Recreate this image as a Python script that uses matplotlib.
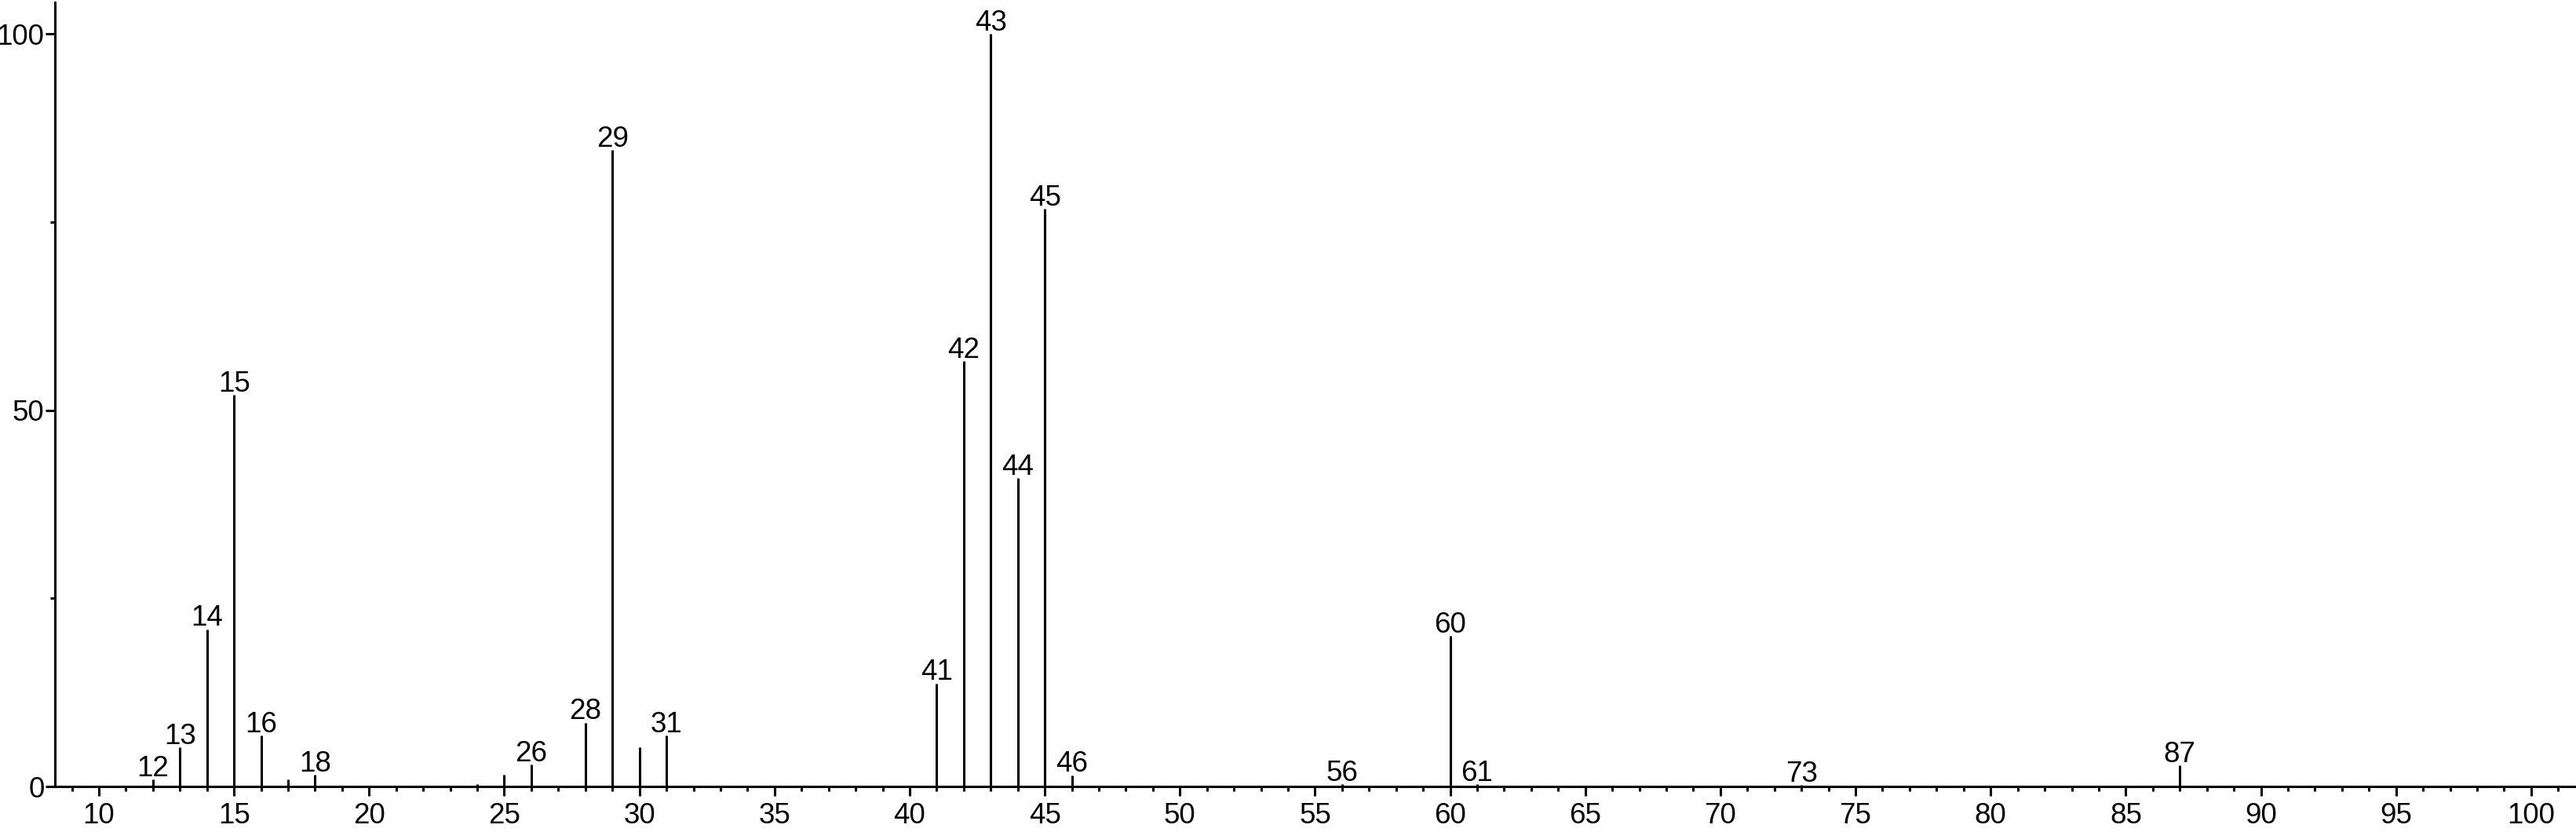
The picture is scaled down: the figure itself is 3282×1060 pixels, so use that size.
import matplotlib
matplotlib.use("Agg")
import matplotlib.pyplot as plt
from matplotlib.ticker import MultipleLocator

plt.rcParams['font.family'] = ['Liberation Sans', 'DejaVu Sans']

# peaks (m/z, relative intensity)
mz = [12, 13, 14, 15, 16, 17, 18, 24, 25, 26, 28, 29, 30, 31,
      41, 42, 43, 44, 45, 46, 56, 60, 61, 73, 87]
intensity = [0.9, 5.2, 20.9, 52.0, 6.8, 0.9, 1.6, 0.35, 1.6, 2.9, 8.5, 84.6, 5.2, 6.8,
             13.7, 56.5, 100.0, 41.0, 76.8, 1.5, 0.3, 20.0, 0.3, 0.2, 2.8]
labeled = [12, 13, 14, 15, 16, 18, 26, 28, 29, 31, 41, 42, 43, 44, 45, 46,
           56, 60, 61, 73, 87]

fig = plt.figure(figsize=(32.82, 10.60), dpi=100)
ax = fig.add_axes([0.0213, 0.0547, 0.9787, 0.9425])

ax.vlines(mz, 0, intensity, colors='black', linewidth=2.2)

for m, h in zip(mz, intensity):
    if m in labeled:
        ax.annotate(str(m), (m, h), xytext=(0, 3), textcoords='offset points',
                    ha='center', va='baseline', fontsize=26.5)

ax.set_xlim(8.37, 101.66)
ax.set_ylim(0, 104.2)

ax.spines['top'].set_visible(False)
ax.spines['right'].set_visible(False)
ax.spines['left'].set_linewidth(2.2)
ax.spines['bottom'].set_linewidth(2.2)

ax.xaxis.set_major_locator(MultipleLocator(5))
ax.xaxis.set_minor_locator(MultipleLocator(1))
ax.yaxis.set_major_locator(MultipleLocator(50))
ax.yaxis.set_minor_locator(MultipleLocator(25))

ax.tick_params(axis='both', which='major', length=8.6, width=2.2, labelsize=26.5)
ax.tick_params(axis='both', which='minor', length=4.3, width=2.2)
ax.tick_params(axis='x', which='major', pad=6)
ax.tick_params(axis='y', which='major', pad=1)

fig.savefig('out.png', dpi=100)
